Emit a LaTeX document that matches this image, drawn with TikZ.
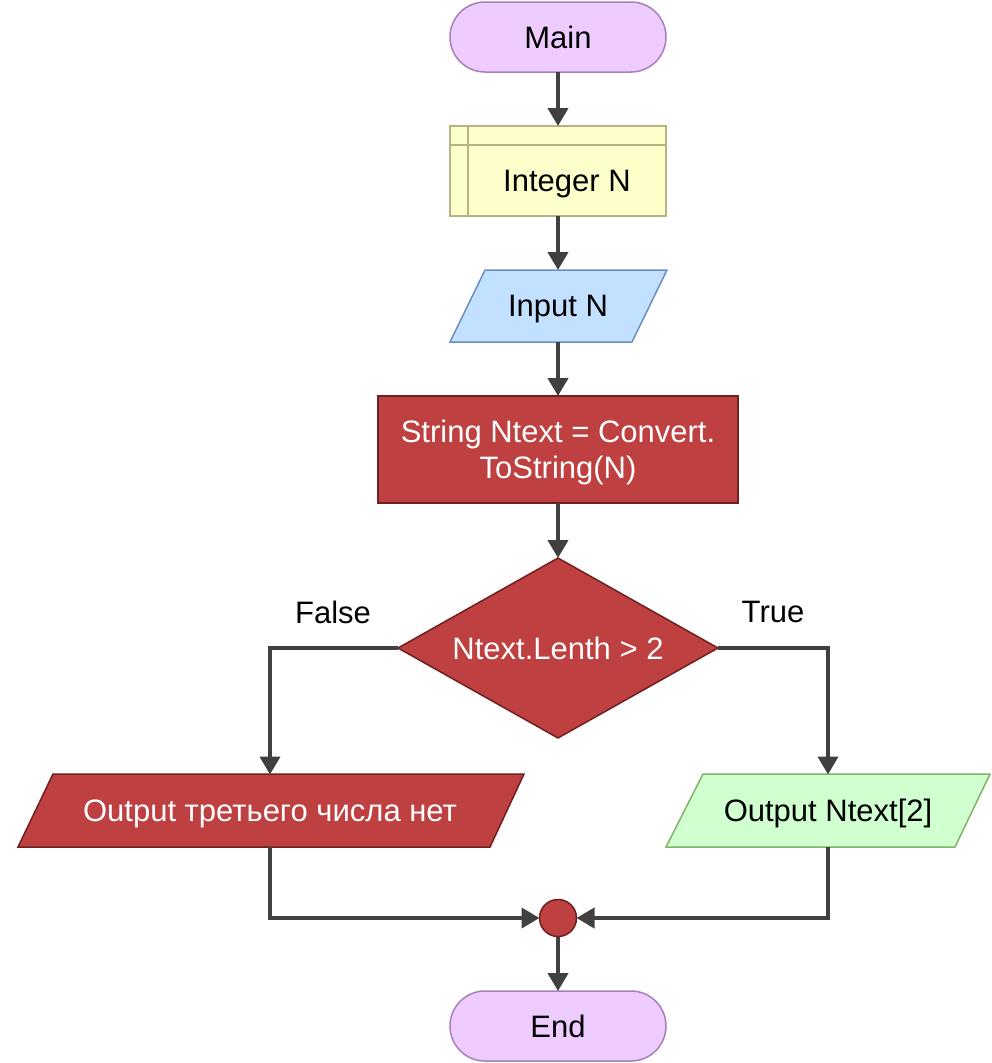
\documentclass[tikz,border=0pt]{standalone}
\usepackage{fontspec}
\setmainfont{Liberation Sans}
\usetikzlibrary{arrows.meta,shapes.geometric,calc}
\definecolor{termfill}{HTML}{EECCFF}
\definecolor{termdraw}{HTML}{A680B8}
\definecolor{declfill}{HTML}{FFFFCC}
\definecolor{decldraw}{HTML}{B3B383}
\definecolor{infill}{HTML}{C2E0FF}
\definecolor{indraw}{HTML}{6C8EBF}
\definecolor{redfill}{HTML}{BF4040}
\definecolor{reddraw}{HTML}{702020}
\definecolor{grnfill}{HTML}{D0FFD0}
\definecolor{grndraw}{HTML}{82B366}
\definecolor{linec}{HTML}{404040}
\tikzset{
  txt/.style={font=\fontsize{31}{36}\selectfont, align=center, inner sep=0pt, outer sep=0pt, text depth=0pt},
  term/.style={txt, draw=termdraw, fill=termfill, line width=1.5pt, rounded corners=35pt, minimum width=216pt, minimum height=70pt},
  declbox/.style={txt, draw=decldraw, fill=declfill, line width=1.5pt, minimum width=216pt, minimum height=90pt},
  procbox/.style={txt, draw=reddraw, fill=redfill, text=white, line width=1.5pt, minimum width=360pt, minimum height=107pt},
  decbox/.style={txt, shape=diamond, aspect=1.78, draw=reddraw, fill=redfill, text=white, line width=1.5pt, minimum width=320pt, minimum height=180pt},
  merge/.style={circle, draw=reddraw, fill=redfill, line width=1.5pt, minimum size=37pt, inner sep=0pt, outer sep=0pt},
  iobox/.style={txt, minimum height=72pt},
  flow/.style={draw=linec, line width=4pt, -{Triangle[width=20pt,length=18pt]}},
  lbl/.style={font=\fontsize{31}{36}\selectfont, inner sep=0pt, text depth=0pt}
}
\begin{document}
\begin{tikzpicture}[x=1pt,y=-1pt]
\useasboundingbox (0,0) rectangle (991,1063);
\fill[white] (0,0) rectangle (991,1063);

% Main
\node[term] (main) at (558,37) {Main};

% Integer N
\node[declbox] (intN) at (558,171) {};
\draw[draw=decldraw, line width=1.5pt] (468,126) -- (468,216) (450,145) -- (666,145);
\node[txt] (intNtext) at (567,181) {Integer N};

% Input N
\filldraw[draw=indraw, fill=infill, line width=1.5pt] (485,270) -- (667,270) -- (632,342) -- (450,342) -- cycle;
\node[iobox] (input) at (558,306) {Input N};

% Convert
\node[procbox] (conv) at (558,449.5) {String Ntext = Convert.\\ToString(N)};

% Decision
\node[decbox] (dec) at (558,648) {Ntext.Lenth > 2};

% False output
\filldraw[draw=reddraw, fill=redfill, line width=1.5pt] (53,774) -- (524,774) -- (490,847) -- (18,847) -- cycle;
\node[iobox, text=white] (outF) at (270,810.5) {Output третьего числа нет};

% True output
\filldraw[draw=grndraw, fill=grnfill, line width=1.5pt] (703,774) -- (990,774) -- (955,847) -- (666,847) -- cycle;
\node[iobox] (outT) at (828,810.5) {Output Ntext[2]};

% Merge
\node[merge] (mg) at (558,918) {};

% End
\node[term] (endn) at (558,1026) {End};

% connectors
\draw[flow] (main.south) -- (intN.north);
\draw[flow] (intN.south) -- (input.north);
\draw[flow] (input.south) -- (conv.north);
\draw[flow] (conv.south) -- (dec.north);
\draw[flow] (dec.west) -| (outF.north);
\draw[flow] (dec.east) -| (outT.north);
\draw[flow] (outF.south) |- (mg.west);
\draw[flow] (outT.south) |- (mg.east);
\draw[flow] (mg.south) -- (endn.north);

\node[lbl] (flbl) at (333,612) {False};
\node[lbl] (tlbl) at (773,612) {True};
\end{tikzpicture}
\end{document}
